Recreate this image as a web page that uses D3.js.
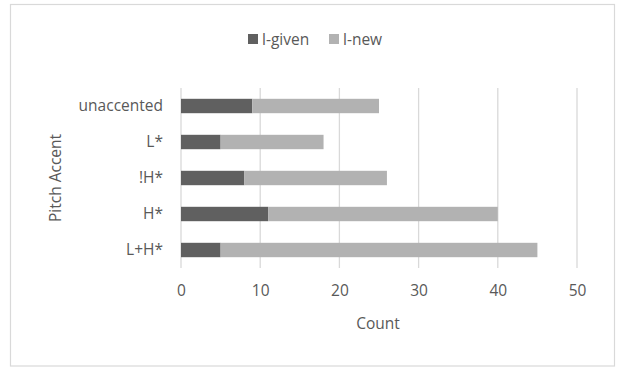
<!DOCTYPE html>
<html>
<head>
<meta charset="utf-8">
<script src="https://cdn.jsdelivr.net/npm/d3@7"></script>
<style>
  html, body { margin: 0; padding: 0; background: #fff; }
  svg { display: block; }
  text { font-family: "Open Sans", "Liberation Sans", sans-serif; fill: #595959; }
</style>
</head>
<body>
<svg id="chart" width="619" height="368"></svg>
<script>
// Pitch accent categories, listed top to bottom
const categories = ["unaccented", "L*", "!H*", "H*", "L+H*"];
const givenCounts = [9, 5, 8, 11, 5];
const newCounts = [16, 13, 18, 29, 40];
const seriesNames = ["l-given", "l-new"];
const xTicks = [0, 10, 20, 30, 40, 50];

const colors = ["#606060", "#b2b2b2"];
const fontSize = "15.5px";
const fontFamily = '"Open Sans", "Liberation Sans", sans-serif';
const svg = d3.select("#chart");

// Outer frame
svg.append("rect")
  .attr("x", 10.5).attr("y", 4.5)
  .attr("width", 604).attr("height", 361.5)
  .attr("fill", "#fff").attr("stroke", "#d9d9d9").attr("stroke-width", 1.2);

const plot = { left: 181, right: 577, top: 88, bottom: 268 };

const x = d3.scaleLinear().domain([0, 50]).range([plot.left, plot.right]);
const y = d3.scaleBand().domain(categories).range([plot.top, plot.bottom]).paddingInner(0.6).paddingOuter(0.3);

// Vertical gridlines
svg.append("g").selectAll("line").data(xTicks).join("line")
  .attr("x1", d => x(d)).attr("x2", d => x(d))
  .attr("y1", plot.top).attr("y2", plot.bottom)
  .attr("stroke", "#d9d9d9").attr("stroke-width", 1.3);

// Stacked bars
const rows = categories.map((c, i) => ({ cat: c, "l-given": givenCounts[i], "l-new": newCounts[i] }));
const stacked = d3.stack().keys(seriesNames)(rows);

svg.append("g").selectAll("g").data(stacked).join("g")
  .attr("fill", (d, i) => colors[i])
  .selectAll("rect").data(d => d).join("rect")
  .attr("x", d => x(d[0]))
  .attr("width", d => x(d[1]) - x(d[0]))
  .attr("y", d => y(d.data.cat))
  .attr("height", y.bandwidth());

// X axis labels
const xAxis = d3.axisBottom(x).tickValues(xTicks).tickSize(0).tickPadding(0);
const gx = svg.append("g").attr("transform", `translate(0,${plot.bottom + 17})`).call(xAxis);
gx.select(".domain").remove();
gx.selectAll("text").attr("font-size", fontSize).attr("fill", "#595959")
  .style("font-family", fontFamily);

// Y axis labels
const yAxis = d3.axisLeft(y).tickSize(0).tickPadding(18);
const gy = svg.append("g").attr("transform", `translate(${plot.left},0)`).call(yAxis);
gy.select(".domain").remove();
gy.selectAll("text").attr("font-size", fontSize).attr("fill", "#595959")
  .style("font-family", fontFamily);

// Axis titles
svg.append("text").attr("x", 378).attr("y", 329)
  .attr("text-anchor", "middle").attr("font-size", fontSize).text("Count");
svg.append("text")
  .attr("transform", "translate(61,178) rotate(-90)")
  .attr("text-anchor", "middle").attr("font-size", fontSize).text("Pitch Accent");

// Legend
const legendItems = [{ name: seriesNames[0], x: 248 }, { name: seriesNames[1], x: 329 }];
const lg = svg.append("g").selectAll("g").data(legendItems).join("g")
  .attr("transform", d => `translate(${d.x},34)`);
lg.append("rect").attr("width", 10).attr("height", 10)
  .attr("fill", (d, i) => colors[i]);
lg.append("text").attr("x", 14).attr("y", 11).attr("font-size", fontSize).text(d => d.name);
</script>
</body>
</html>
